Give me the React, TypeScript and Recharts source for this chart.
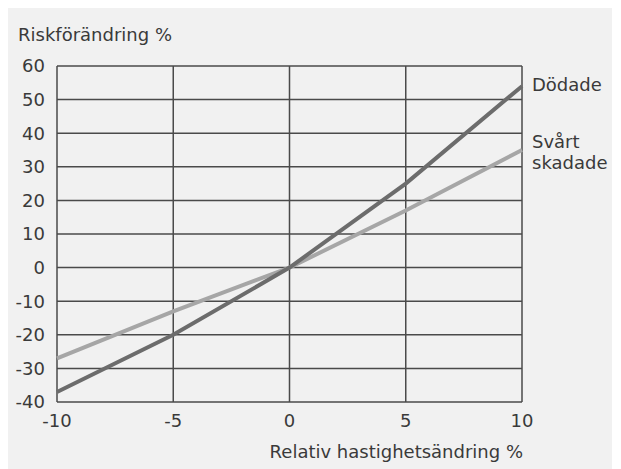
import { LineChart, Line, XAxis, YAxis, CartesianGrid } from 'recharts';

// relativ hastighetsändring %
const speedChange = [-10, -5, 0, 5, 10];
// riskförändring % per kategori
const killed = [-37, -20, 0, 25, 54];
const seriouslyInjured = [-27, -13, 0, 17, 35];

const xTicks = [-10, -5, 0, 5, 10];
const yTicks = [-40, -30, -20, -10, 0, 10, 20, 30, 40, 50, 60];

const data = speedChange.map((x, i) => ({
  x,
  dodade: killed[i],
  svart: seriouslyInjured[i],
}));

const FONT = '"DejaVu Sans", sans-serif';
const TEXT = '#3a3a3a';

const EndLabel = (lines: string[], offsetY: number) => (props: any) => {
  const { x, y, index } = props;
  if (index !== data.length - 1) return null;
  const step = 21;
  const start = y + offsetY - ((lines.length - 1) * step) / 2;
  return (
    <text x={x + 10} y={start} fontSize={18} fontFamily={FONT} fill={TEXT} dy="0.355em">
      {lines.map((l, i) => (
        <tspan key={l} x={x + 10} dy={i === 0 ? '0.355em' : step}>
          {l}
        </tspan>
      ))}
    </text>
  );
};

const App = () => {
  return (
    <div style={{ position: 'relative', width: 604, height: 461, background: '#f1f1f1', fontFamily: FONT }}>
      <div style={{ position: 'absolute', left: 10, top: 17, fontSize: 18, lineHeight: '20px', color: TEXT }}>
        Riskförändring %
      </div>
      <LineChart width={604} height={460} data={data} margin={{ top: 58, right: 90, left: 0, bottom: 0 }}>
        <CartesianGrid stroke="#4a4a4a" strokeWidth={1.5} verticalPoints={undefined} />
        <XAxis
          dataKey="x"
          type="number"
          domain={[-10, 10]}
          ticks={xTicks}
          height={66}
          axisLine={false}
          tickLine={false}
          tickSize={0}
          tickMargin={12}
          tick={{ fontSize: 18, fontFamily: FONT, fill: TEXT }}
        />
        <YAxis
          type="number"
          domain={[-40, 60]}
          ticks={yTicks}
          width={49}
          axisLine={false}
          tickLine={false}
          tickSize={0}
          tickMargin={12}
          interval={0}
          tick={{ fontSize: 18, fontFamily: FONT, fill: TEXT }}
        />
        <Line
          dataKey="svart"
          stroke="#a6a6a6"
          strokeWidth={4}
          dot={false}
          isAnimationActive={false}
          label={EndLabel(['Svårt', 'skadade'], 2)}
        />
        <Line
          dataKey="dodade"
          stroke="#6c6c6c"
          strokeWidth={4}
          dot={false}
          isAnimationActive={false}
          label={EndLabel(['Dödade'], -2)}
        />
      </LineChart>
      <div
        style={{
          position: 'absolute',
          right: 89,
          top: 434,
          fontSize: 18,
          lineHeight: '20px',
          color: TEXT,
          textAlign: 'right',
          whiteSpace: 'nowrap',
        }}
      >
        Relativ hastighetsändring %
      </div>
    </div>
  );
};

export default App;
